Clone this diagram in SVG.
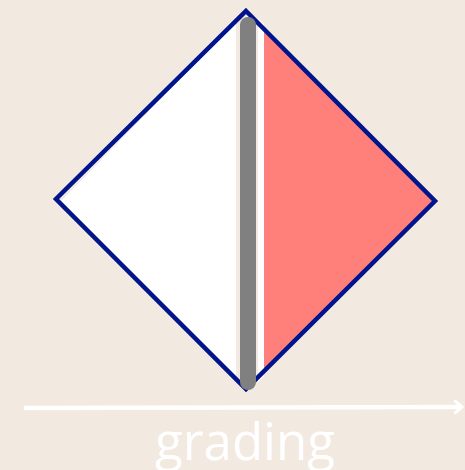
<svg xmlns="http://www.w3.org/2000/svg" width="465" height="470" viewBox="0 0 465 470">
<defs>
<style>
.bg{fill:#f2e9e0}
.outline{fill:none;stroke:#00148c;stroke-width:4.5;stroke-linejoin:miter}
.lbl{font-family:"Open Sans","Noto Sans",sans-serif;font-size:51px;fill:#ffffff;text-anchor:middle}
</style>
<marker id="ah" markerWidth="12" markerHeight="14" refX="8" refY="7" orient="auto" markerUnits="userSpaceOnUse">
<path d="M0,0 L8,7 L0,14" fill="none" stroke="#ffffff" stroke-width="3"/>
</marker>
</defs>
<rect class="bg" x="0" y="0" width="465" height="470"/>
<g id="left-half">
<polygon points="236,22 236,380 61,201" fill="#ffffff"/>
</g>
<g id="white-strip">
<polygon points="258,18 264,24 264,376 258,382" fill="#ffffff"/>
</g>
<g id="right-half">
<polygon points="264,29 433,201 264,371" fill="#ff7f7b"/>
</g>
<g id="diamond">
<polygon class="outline" points="246,11 435,201 246,389 56,199"/>
</g>
<g id="bar">
<rect x="240" y="17" width="16" height="373" rx="8" fill="#808080"/>
</g>
<g id="connectors">
<line x1="24" y1="408" x2="462" y2="407" stroke="#ffffff" stroke-width="4.5" marker-end="url(#ah)"/>
</g>
<text class="lbl" x="245" y="460">grading</text>
</svg>
